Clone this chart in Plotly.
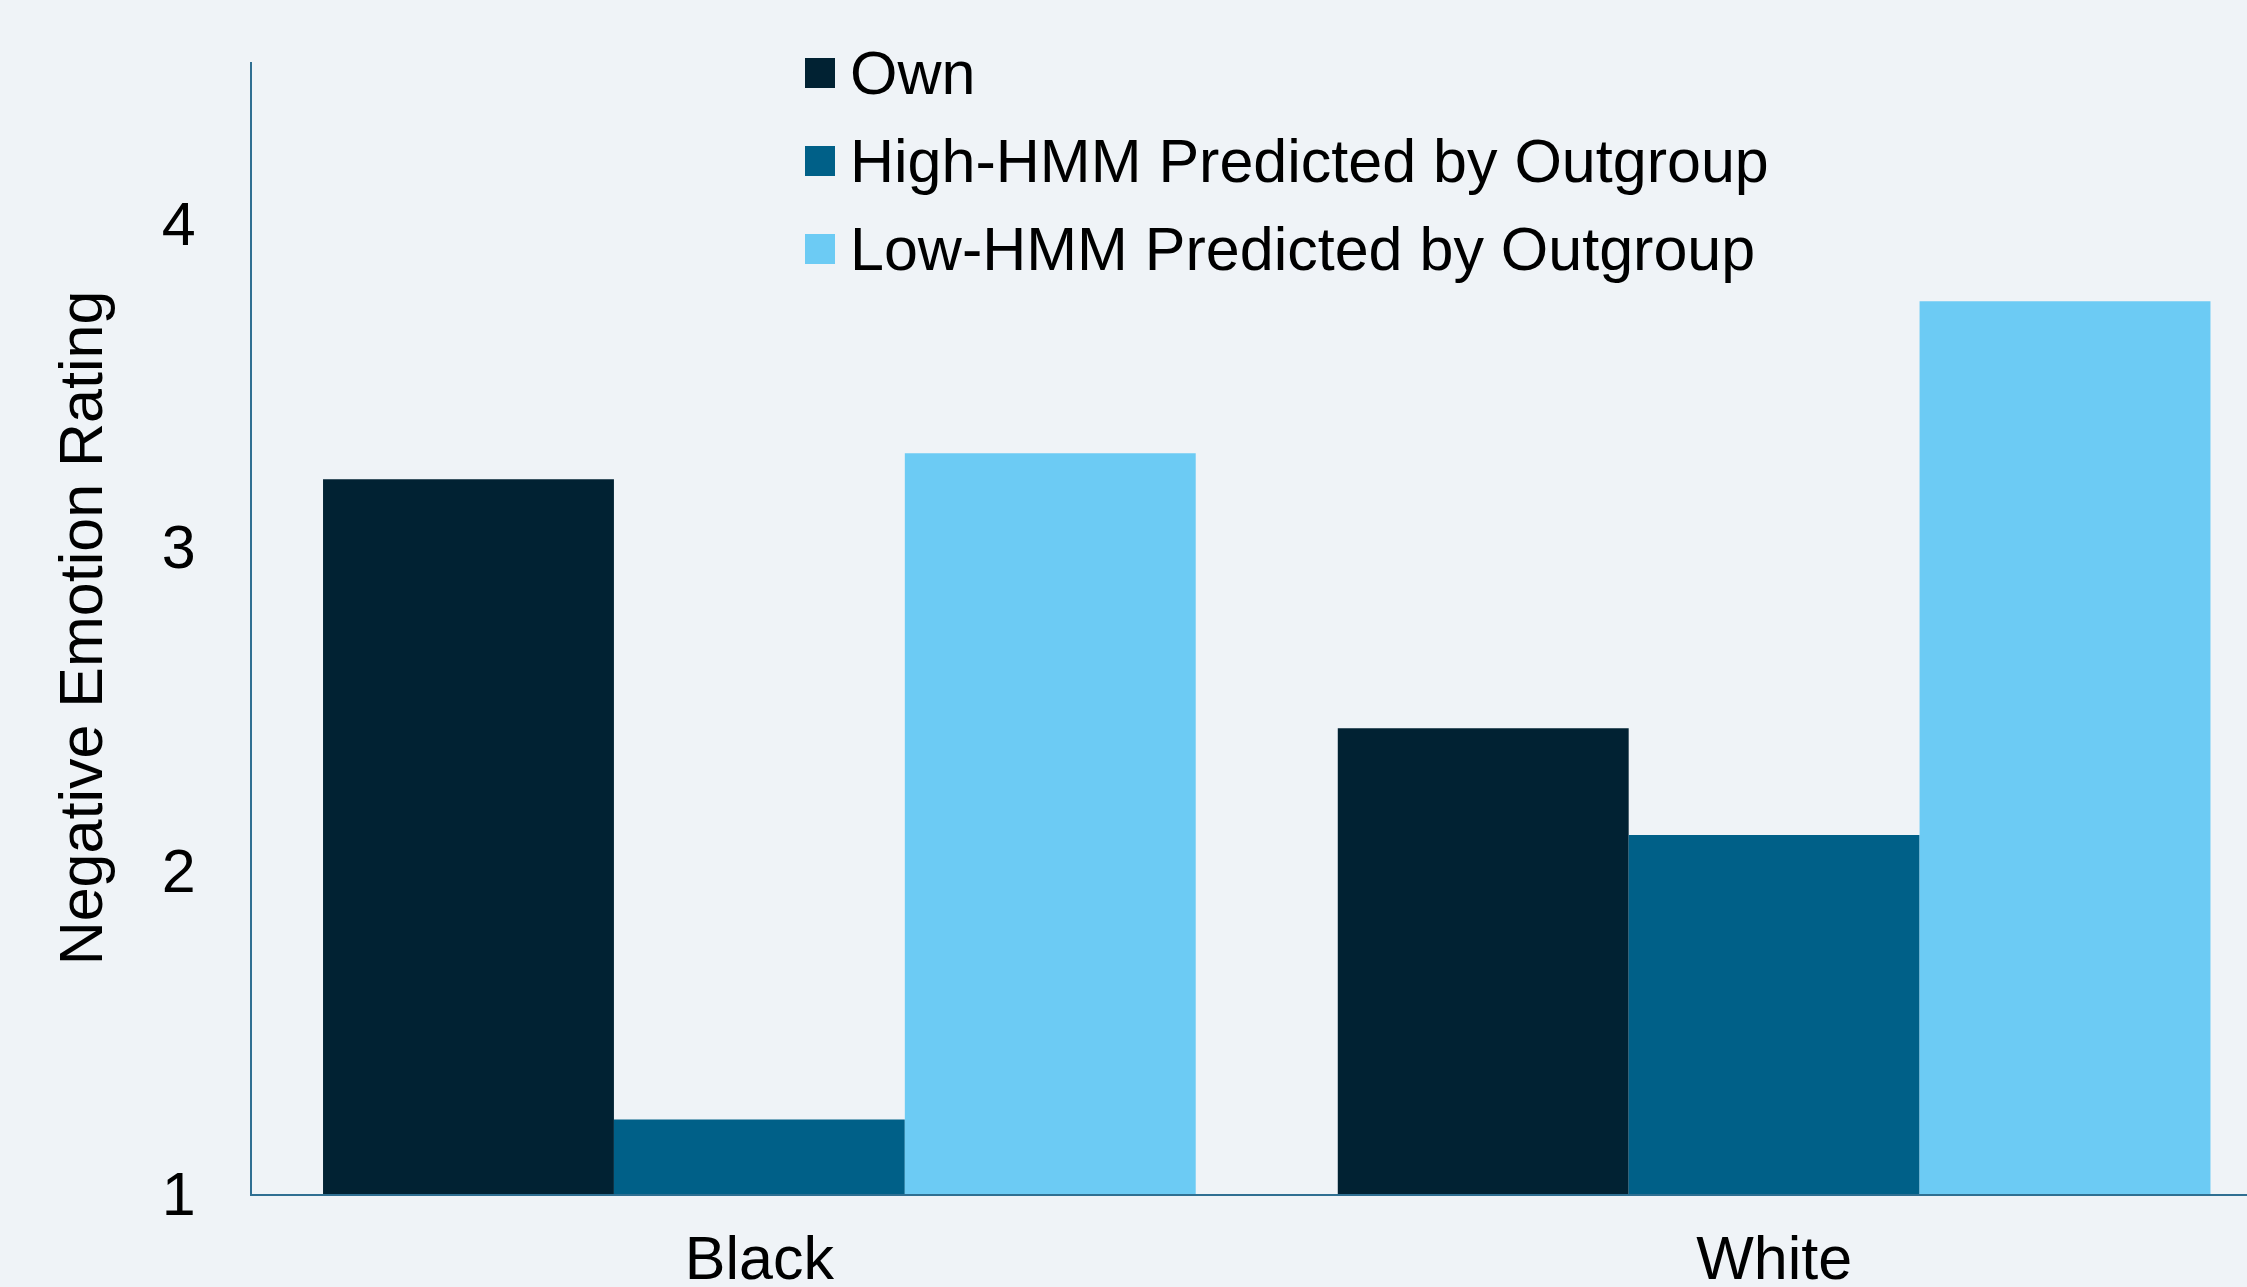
import plotly.graph_objects as go

# Negative emotion ratings by target group
categories = ["Black", "White"]
series_names = [
    "Own",
    "High-HMM Predicted by Outgroup",
    "Low-HMM Predicted by Outgroup",
]
own_values = [3.21, 2.44]
high_hmm_values = [1.23, 2.11]
low_hmm_values = [3.29, 3.76]
series_values = [own_values, high_hmm_values, low_hmm_values]
series_colors = ["#012233", "#006088", "#6ccbf4"]
y_tick_values = [1, 2, 3, 4]

BG = "#eff3f7"
AXIS_COLOR = "#2f6f92"
FONT = "Liberation Sans, Arial, Helvetica, sans-serif"
FONT_SIZE = 61

W, H = 2247, 1287
M_L, M_R, M_T, M_B = 252, 0, 62, 93
plot_w = W - M_L - M_R
plot_h = H - M_T - M_B

fig = go.Figure()
for name, vals, color in zip(series_names, series_values, series_colors):
    fig.add_trace(
        go.Bar(
            x=categories,
            y=[v - 1 for v in vals],
            base=1,
            name=name,
            marker=dict(color=color, line=dict(width=0)),
            showlegend=False,
        )
    )

# Legend drawn as colored squares with labels beside them
legend_rows_px = [73, 161, 249]
sq_left_px, sq_size_px, text_left_px = 805, 30, 848
shapes = []
annotations = []
for name, color, row_px in zip(series_names, series_colors, legend_rows_px):
    yc = (H - M_B - row_px) / plot_h
    half = (sq_size_px / 2) / plot_h
    shapes.append(
        dict(
            type="rect",
            xref="paper",
            yref="paper",
            x0=(sq_left_px - M_L) / plot_w,
            x1=(sq_left_px + sq_size_px - M_L) / plot_w,
            y0=yc - half,
            y1=yc + half,
            fillcolor=color,
            line=dict(width=0),
        )
    )
    annotations.append(
        dict(
            xref="paper",
            yref="paper",
            x=(text_left_px - M_L) / plot_w,
            y=yc,
            xanchor="left",
            yanchor="middle",
            text=name,
            showarrow=False,
            font=dict(family=FONT, size=FONT_SIZE, color="#000000"),
        )
    )

fig.update_layout(
    width=W,
    height=H,
    margin=dict(l=M_L, r=M_R, t=M_T, b=M_B, pad=0),
    paper_bgcolor=BG,
    plot_bgcolor=BG,
    font=dict(family=FONT, size=FONT_SIZE, color="#000000"),
    barmode="group",
    bargap=0.14,
    bargroupgap=0,
    shapes=shapes,
    annotations=annotations,
    showlegend=False,
)
fig.update_xaxes(
    range=[-0.5, 1.466],
    automargin=False,
    showgrid=False,
    zeroline=False,
    showline=True,
    linecolor=AXIS_COLOR,
    linewidth=2,
    ticks="",
    ticklabelstandoff=10,
    tickfont=dict(family=FONT, size=FONT_SIZE, color="#000000"),
)
fig.update_yaxes(
    range=[1, 4.5],
    tickvals=y_tick_values,
    automargin=False,
    showgrid=False,
    zeroline=False,
    showline=True,
    linecolor=AXIS_COLOR,
    linewidth=2,
    ticks="",
    ticklabelstandoff=42,
    tickfont=dict(family=FONT, size=FONT_SIZE, color="#000000"),
    title=dict(
        text="Negative Emotion Rating",
        font=dict(family=FONT, size=FONT_SIZE, color="#000000"),
        standoff=40,
    ),
)

fig.write_html("out.html")
